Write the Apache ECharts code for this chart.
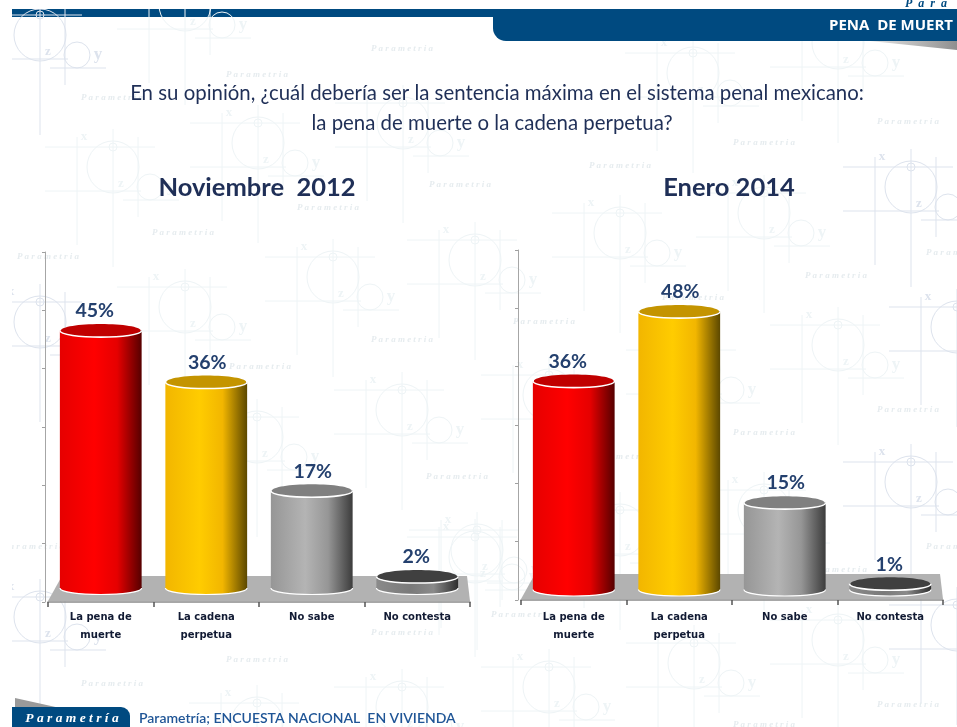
<!DOCTYPE html>
<html lang="es">
<head>
<meta charset="utf-8">
<title>Pena de muerte</title>
<script src="https://cdn.jsdelivr.net/npm/echarts@6/dist/echarts.min.js"></script>
<style>
html,body{margin:0;padding:0;background:#fff}
#chart{width:957px;height:727px;filter:blur(0.35px)}
</style>
</head>
<body>
<div id="chart"></div>
<script>
// ---- data ----
const categories = ['La pena de\nmuerte', 'La cadena\nperpetua', 'No sabe', 'No contesta'];
const nov2012 = [45, 36, 17, 2];
const ene2014 = [36, 48, 15, 1];
const titleLeft = 'Noviembre  2012';
const titleRight = 'Enero 2014';
const question = 'En su opinión, ¿cuál debería ser la sentencia máxima en el sistema penal mexicano:';
const question2 = 'la pena de muerte o la cadena perpetua?';
const headerText = 'PENA  DE MUERT';
const footerText = 'Parametría; ENCUESTA NACIONAL  EN VIVIENDA';

// ---- styles ----
const NAVY = '#1f2f57';
const BLUE = '#004a80';
const palette = [
  {edge:'#e60000', mid:'#ff0000', dark:'#560000', top:'#c00000', dx:-6},
  {edge:'#f2b600', mid:'#ffcc00', dark:'#5c4800', top:'#c49400', dx:1},
  {edge:'#969696', mid:'#b4b4b4', dark:'#3c3c3c', top:'#808080', dx:1},
  {edge:'#8a8a8a', mid:'#7a7a7a', dark:'#2e2e2e', top:'#404040', dx:-1}
];

// ---- background watermark (decoration only) ----
const strongMotifs = [[40,35],[40,322],[40,617],[911,187],[911,482],[957,327],[957,625]];
const softMotifs = [[113,167],[258,143],[403,123],[185,5],[333,277],[185,307],[475,260],[402,410],
  [257,437],[475,557],[402,707],[257,723],[620,233],[764,213],[838,345],[693,73],[838,43],[477,550],
  [549,687],[694,663],[838,640],[620,530],[764,510],[549,395],[694,370]];
const softTexts = [[402,49],[257,75],[112,98],[460,185],[328,208],[183,233],[48,257],[402,340],[260,367],
  [457,477],[402,633],[257,660],[112,684],[33,547],[908,122],[764,143],[620,166],[836,276],[693,298],
  [544,322],[957,253],[908,410],[764,433],[620,457],[836,570],[908,705],[764,725],[522,615],[957,547]];

function motif(cx, cy, color) {
  const ls = {stroke: color, lineWidth: 1, fill: 'none'};
  const line = (x1,y1,x2,y2) => ({type:'line', silent:true, shape:{x1:cx+x1,y1:cy+y1,x2:cx+x2,y2:cy+y2}, style:ls});
  const circ = (x,y,r) => ({type:'circle', silent:true, shape:{cx:cx+x,cy:cy+y,r}, style:ls});
  const txt = (x,y,t,s) => ({type:'text', silent:true, style:{x:cx+x,y:cy+y,text:t,fill:color,
    font:'bold '+s+'px "Liberation Serif"',align:'center',verticalAlign:'middle'}});
  return [
    circ(0,0,26), circ(0,-20,4), circ(37,20,13),
    line(-68,-20,42,-20), line(-68,24,28,24), line(10,33,66,33),
    line(-36,-30,-36,78), line(0,-38,0,100), line(25,-30,25,50),
    txt(-29,-30,'x',13), txt(8,17,'z',13), txt(58,20,'y',17)
  ];
}
const bgElements = [];
softMotifs.forEach(p => bgElements.push(...motif(p[0], p[1], '#eef4f6')));
strongMotifs.forEach(p => bgElements.push(...motif(p[0], p[1], '#dde3ed')));
softTexts.forEach(p => bgElements.push({type:'text', silent:true, style:{x:p[0],y:p[1],
  text:'P a r a m e t r i a', fill:'#e6ecef', font:'italic bold 9px "Liberation Serif"', align:'center', verticalAlign:'middle'}}));

// ---- chrome ----
const chromeBelow = [
  {type:'rect', silent:true, z:-2, shape:{x:12,y:9,width:945,height:8}, style:{fill:BLUE}}
];
const chromeAbove = [
  {type:'rect', silent:true, shape:{x:0,y:0,width:957,height:9}, style:{fill:'#fff'}},
  {type:'rect', silent:true, shape:{x:0,y:0,width:12,height:727}, style:{fill:'#fff'}},
  {type:'polygon', silent:true, shape:{points:[[870,41],[957,41],[957,50]]},
    style:{fill:{type:'linear',x:0,y:0,x2:1,y2:0,colorStops:[{offset:0,color:'#e6e6e6'},{offset:1,color:'#8f8f8f'}]}}},
  {type:'rect', silent:true, shape:{x:493,y:9,width:470,height:32,r:[0,0,0,13]}, style:{fill:BLUE}},
  {type:'text', silent:true, style:{x:829,y:26,text:headerText,fill:'#fff',font:'bold 15px "Open Sans"',verticalAlign:'middle'}},
  {type:'text', silent:true, style:{x:905,y:4,text:'P  a  r  a',fill:BLUE,font:'italic bold 12px "Liberation Serif"',verticalAlign:'middle'}},
  {type:'polygon', silent:true, shape:{points:[[15,698],[15,708],[60,708]]}, style:{fill:'#9a9a9a'}},
  {type:'rect', silent:true, shape:{x:12,y:707,width:118,height:24,r:[0,9,0,0]}, style:{fill:BLUE}},
  {type:'text', silent:true, style:{x:72,y:719,text:'P a r a m e t r í a',fill:'#fff',font:'italic bold 13.5px "Liberation Serif"',align:'center',verticalAlign:'middle'}},
  {type:'text', silent:true, style:{x:139,y:718,text:footerText,fill:'#1f5596',font:'600 14px "Lato"',verticalAlign:'middle'}}
];

// ---- marks ----
function renderFloor(params) {
  const c = params.coordSys, b = c.y + c.height - 1, t = c.y + c.height - 26;
  return {type:'polygon', silent:true, shape:{points:[[c.x,b],[c.x+c.width,b],[c.x+c.width-3,t],[c.x+14,t]]},
    style:{fill:'#b2b2b2'}};
}
function renderCylinder(params, api) {
  const i = api.value(0), v = api.value(1);
  const top = api.coord([i, v]), base = api.coord([i, 0]);
  const w = api.size([1, 0])[0] * 0.775, rx = w / 2, ry = 6.5;
  const x = top[0] - rx, p = palette[i];
  const kappa = 4 / 3;
  const grad = {type:'linear', x:0, y:0, x2:1, y2:0, colorStops:[
    {offset:0, color:p.edge},{offset:0.42, color:p.mid},{offset:0.7, color:p.edge},{offset:1, color:p.dark}]};
  const arc = (cy, lw) => ({type:'bezierCurve', silent:true, shape:{
      x1:x, y1:cy, x2:x+w, y2:cy, cpx1:x, cpy1:cy+ry*kappa, cpx2:x+w, cpy2:cy+ry*kappa},
      style:{stroke:'#fff', lineWidth:lw, fill:'none'}});
  return {type:'group', children:[
    {type:'ellipse', silent:true, shape:{cx:top[0], cy:base[1], rx, ry}, style:{fill:grad}},
    {type:'rect', silent:true, shape:{x, y:top[1], width:w, height:base[1]-top[1]}, style:{fill:grad}},
    arc(base[1], 1.2),
    {type:'ellipse', silent:true, shape:{cx:top[0], cy:top[1], rx:rx-1, ry}, style:{fill:p.top}},
    arc(top[1], 1.6),
    {type:'text', silent:true, style:{x:top[0]+p.dx, y:top[1]-ry-3, text:v+'%', fill:'#24406e',
      font:'bold 19.5px "Lato"', align:'center', verticalAlign:'bottom'}}
  ]};
}

function makeAxes(gridIdx, dataMin, dataMax, labelMargin) {
  return {
    xAxis: {type:'category', gridIndex:gridIdx, data:categories, z:5,
      axisLine:{lineStyle:{color:'#8a8a8a',width:1.5}},
      axisTick:{show:true,inside:false,length:5,lineStyle:{color:'#555',width:1.5}},
      axisLabel:{color:'#111a33',fontFamily:'DejaVu Sans',fontWeight:'bold',fontSize:10,lineHeight:18,margin:labelMargin,interval:0}},
    yAxis: [
      {type:'value', gridIndex:gridIdx, min:0, max:60, interval:10, offset:3,
       axisLine:{show:true,lineStyle:{color:'#a6a6a6',width:1}},
       axisTick:{show:true,length:3,lineStyle:{color:'#a0a0a0'}},
       axisLabel:{show:false}, splitLine:{show:false}},
      {type:'value', gridIndex:gridIdx, min:dataMin, max:dataMax, show:false}
    ]
  };
}
const axL = makeAxes(0, -2.45, 58.74, 6);
const axR = makeAxes(1, -1.81, 58.64, 8);

function seriesFor(values, xIdx, yIdx) {
  return [
    {type:'custom', xAxisIndex:xIdx, yAxisIndex:yIdx, clip:false, z:1, silent:true, data:[[0,0]], renderItem:renderFloor},
    {type:'custom', xAxisIndex:xIdx, yAxisIndex:yIdx, clip:false, z:3, silent:true, encode:{x:0,y:1},
     data:values.map((v,i)=>[i,v]), renderItem:renderCylinder}
  ];
}

const chart = echarts.init(document.getElementById('chart'), null, {renderer:'canvas'});
chart.setOption({
  animation:false,
  backgroundColor:'#fff',
  title:[
    {text:question, left:492, top:78, textAlign:'center', textStyle:{fontFamily:'Lato',fontSize:20.4,fontWeight:'normal',color:NAVY}},
    {text:question2, left:487, top:108, textAlign:'center', textStyle:{fontFamily:'Lato',fontSize:20.4,fontWeight:'normal',color:NAVY}},
    {text:titleLeft, left:252, top:170, textAlign:'center', textStyle:{fontFamily:'Lato',fontSize:25.5,fontWeight:'bold',color:NAVY}},
    {text:titleRight, left:724, top:170, textAlign:'center', textStyle:{fontFamily:'Lato',fontSize:25.5,fontWeight:'bold',color:NAVY}}
  ],
  graphic:{elements:[...chromeBelow, ...bgElements, ...chromeAbove]},
  grid:[
    {left:48, top:252, width:422, height:350},
    {left:521, top:250, width:422, height:350}
  ],
  xAxis:[axL.xAxis, axR.xAxis],
  yAxis:[...axL.yAxis, ...axR.yAxis],
  series:[...seriesFor(nov2012,0,1), ...seriesFor(ene2014,1,3)]
});
</script>
</body>
</html>
